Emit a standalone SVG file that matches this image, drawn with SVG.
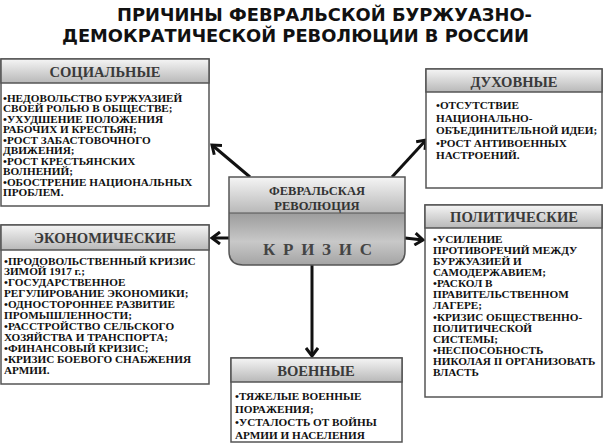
<svg xmlns="http://www.w3.org/2000/svg" width="604" height="444" viewBox="0 0 604 444">
<defs>
<style>
.title{font-family:"DejaVu Sans",Verdana,sans-serif;font-weight:bold;font-size:18.5px;fill:#111}
.hd{font-family:"Liberation Serif","Times New Roman",serif;font-weight:bold;font-size:14.6px;fill:#3a3a3a;text-anchor:middle}
.bd{font-family:"Liberation Serif","Times New Roman",serif;font-weight:bold;font-size:11.2px;fill:#111}
.box{fill:#fff;stroke:#555;stroke-width:1.5}
.hbox{fill:url(#hg);stroke:#555;stroke-width:1.5}
.cn{fill:none;stroke:#111;stroke-width:3}
.ct{font-family:"Liberation Serif","Times New Roman",serif;font-weight:bold;font-size:12.5px;fill:#333;text-anchor:middle}
.kr{font-family:"Liberation Serif","Times New Roman",serif;font-weight:bold;font-size:17px;fill:#444}
</style>
<linearGradient id="hg" x1="0" y1="0" x2="0" y2="1">
<stop offset="0" stop-color="#f5f5f5"/>
<stop offset="1" stop-color="#b8b8b8"/>
</linearGradient>
<linearGradient id="cg" x1="0" y1="0" x2="0" y2="1">
<stop offset="0" stop-color="#9c9c9c"/>
<stop offset="0.55" stop-color="#c8c8c8"/>
<stop offset="1" stop-color="#a4a4a4"/>
</linearGradient>
<marker id="ah" markerWidth="14" markerHeight="14" refX="10" refY="7" orient="auto" markerUnits="userSpaceOnUse">
<path d="M2,1 L10,7 L2,13" fill="none" stroke="#111" stroke-width="3"/>
</marker>
<clipPath id="cc"><path d="M229,177 H405 V251 Q405,265 391,265 H243 Q229,265 229,251 Z"/></clipPath>
</defs>

<g id="title">
<text class="title" x="117" y="21" textLength="415" lengthAdjust="spacingAndGlyphs">ПРИЧИНЫ ФЕВРАЛЬСКОЙ БУРЖУАЗНО-</text>
<text class="title" x="62" y="42" textLength="467" lengthAdjust="spacingAndGlyphs">ДЕМОКРАТИЧЕСКОЙ РЕВОЛЮЦИИ В РОССИИ</text>
</g>

<g id="connectors">
<line class="cn" x1="250" y1="177" x2="212" y2="145" marker-end="url(#ah)"/>
<line class="cn" x1="392" y1="177" x2="426" y2="140" marker-end="url(#ah)"/>
<line class="cn" x1="229" y1="238" x2="212" y2="238" marker-end="url(#ah)"/>
<line class="cn" x1="405" y1="238" x2="423" y2="240" marker-end="url(#ah)"/>
<line class="cn" x1="312" y1="265" x2="312" y2="356" marker-end="url(#ah)"/>
</g>

<g id="center">
<g clip-path="url(#cc)">
<rect x="229" y="177" width="176" height="36" fill="url(#hg)"/>
<rect x="229" y="213" width="176" height="52" fill="url(#cg)"/>
</g>
<line x1="229" y1="213" x2="405" y2="213" stroke="#555" stroke-width="1.2"/>
<path d="M229,177 H405 V251 Q405,265 391,265 H243 Q229,265 229,251 Z" fill="none" stroke="#555" stroke-width="1.5"/>
<text class="ct" x="317" y="194.5">ФЕВРАЛЬСКАЯ</text>
<text class="ct" x="317" y="209.5">РЕВОЛЮЦИЯ</text>
<text class="kr" x="263" y="255" textLength="109" lengthAdjust="spacing">КРИЗИС</text>
</g>

<g id="social">
<rect class="box" x="1" y="59" width="208" height="147"/>
<rect class="hbox" x="1" y="59" width="208" height="24"/>
<text class="hd" x="105" y="77">СОЦИАЛЬНЫЕ</text>
<text class="bd" x="3" y="101.5">•НЕДОВОЛЬСТВО БУРЖУАЗИЕЙ</text>
<text class="bd" x="3" y="112">СВОЕЙ РОЛЬЮ В ОБЩЕСТВЕ;</text>
<text class="bd" x="3" y="122.5">•УХУДШЕНИЕ ПОЛОЖЕНИЯ</text>
<text class="bd" x="3" y="133">РАБОЧИХ И КРЕСТЬЯН;</text>
<text class="bd" x="3" y="143.5">•РОСТ ЗАБАСТОВОЧНОГО</text>
<text class="bd" x="3" y="154">ДВИЖЕНИЯ;</text>
<text class="bd" x="3" y="164.5">•РОСТ КРЕСТЬЯНСКИХ</text>
<text class="bd" x="3" y="175">ВОЛНЕНИЙ;</text>
<text class="bd" x="3" y="185.5">•ОБОСТРЕНИЕ НАЦИОНАЛЬНЫХ</text>
<text class="bd" x="3" y="196">ПРОБЛЕМ.</text>
</g>

<g id="spiritual">
<rect class="box" x="426" y="69" width="176" height="119"/>
<rect class="hbox" x="426" y="69" width="176" height="23"/>
<text class="hd" x="514" y="86.5">ДУХОВНЫЕ</text>
<text class="bd" x="436" y="109">•ОТСУТСТВИЕ</text>
<text class="bd" x="436" y="121.5">НАЦИОНАЛЬНО-</text>
<text class="bd" x="436" y="134">ОБЪЕДИНИТЕЛЬНОЙ ИДЕИ;</text>
<text class="bd" x="436" y="146.5">•РОСТ АНТИВОЕННЫХ</text>
<text class="bd" x="436" y="159">НАСТРОЕНИЙ.</text>
</g>

<g id="economic">
<rect class="box" x="1" y="225" width="208" height="159"/>
<rect class="hbox" x="1" y="225" width="208" height="25"/>
<text class="hd" x="105" y="243">ЭКОНОМИЧЕСКИЕ</text>
<text class="bd" x="4" y="264.5">•ПРОДОВОЛЬСТВЕННЫЙ КРИЗИС</text>
<text class="bd" x="4" y="275.4">ЗИМОЙ 1917 г.;</text>
<text class="bd" x="4" y="286.3">•ГОСУДАРСТВЕННОЕ</text>
<text class="bd" x="4" y="297.2">РЕГУЛИРОВАНИЕ ЭКОНОМИКИ;</text>
<text class="bd" x="4" y="308.1">•ОДНОСТОРОННЕЕ РАЗВИТИЕ</text>
<text class="bd" x="4" y="319">ПРОМЫШЛЕННОСТИ;</text>
<text class="bd" x="4" y="329.9">•РАССТРОЙСТВО СЕЛЬСКОГО</text>
<text class="bd" x="4" y="340.8">ХОЗЯЙСТВА И ТРАНСПОРТА;</text>
<text class="bd" x="4" y="351.7">•ФИНАНСОВЫЙ КРИЗИС;</text>
<text class="bd" x="4" y="362.6">•КРИЗИС БОЕВОГО СНАБЖЕНИЯ</text>
<text class="bd" x="4" y="373.5">АРМИИ.</text>
</g>

<g id="political">
<rect class="box" x="425" y="205" width="177" height="192"/>
<rect class="hbox" x="425" y="205" width="177" height="23"/>
<text class="hd" x="514" y="222">ПОЛИТИЧЕСКИЕ</text>
<text class="bd" x="433" y="242.5">•УСИЛЕНИЕ</text>
<text class="bd" x="433" y="253.7">ПРОТИВОРЕЧИЙ МЕЖДУ</text>
<text class="bd" x="433" y="264.8">БУРЖУАЗИЕЙ И</text>
<text class="bd" x="433" y="276">САМОДЕРЖАВИЕМ;</text>
<text class="bd" x="433" y="287.1">•РАСКОЛ В</text>
<text class="bd" x="433" y="298.3">ПРАВИТЕЛЬСТВЕННОМ</text>
<text class="bd" x="433" y="309.4">ЛАГЕРЕ;</text>
<text class="bd" x="433" y="320.6">•КРИЗИС ОБЩЕСТВЕННО-</text>
<text class="bd" x="433" y="331.7">ПОЛИТИЧЕСКОЙ</text>
<text class="bd" x="433" y="342.9">СИСТЕМЫ;</text>
<text class="bd" x="433" y="354">•НЕСПОСОБНОСТЬ</text>
<text class="bd" x="433" y="365.2">НИКОЛАЯ II ОРГАНИЗОВАТЬ</text>
<text class="bd" x="433" y="376.3">ВЛАСТЬ</text>
</g>

<g id="military">
<rect class="box" x="231" y="358" width="171" height="84"/>
<rect class="hbox" x="231" y="358" width="171" height="24"/>
<text class="hd" x="316" y="376">ВОЕННЫЕ</text>
<text class="bd" x="235" y="400">•ТЯЖЕЛЫЕ ВОЕННЫЕ</text>
<text class="bd" x="235" y="413">ПОРАЖЕНИЯ;</text>
<text class="bd" x="235" y="426">•УСТАЛОСТЬ ОТ ВОЙНЫ</text>
<text class="bd" x="235" y="439">АРМИИ И НАСЕЛЕНИЯ</text>
</g>
</svg>
